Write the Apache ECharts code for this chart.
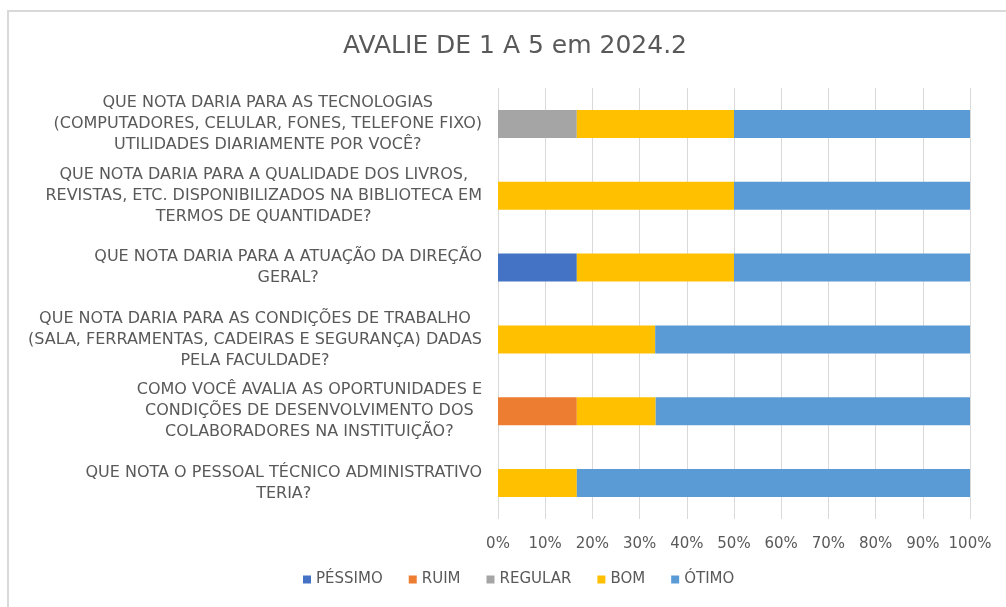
<!DOCTYPE html>
<html>
<head>
<meta charset="utf-8">
<script src="https://cdn.jsdelivr.net/npm/echarts@6/dist/echarts.min.js"></script>
<style>
  html, body { margin: 0; padding: 0; background: #fff; overflow: hidden; width: 1006px; height: 607px; }
  #frame { position: absolute; left: 7px; top: 10px; width: 1100px; height: 700px;
    border-left: 2px solid #d9d9d9; border-top: 2px solid #d9d9d9; }
  #chart { position: absolute; left: 0; top: 0; width: 1006px; height: 607px; }
</style>
</head>
<body>
<div id="frame"></div>
<div id="chart"></div>
<script>
const categories = [
  'QUE NOTA DARIA PARA AS TECNOLOGIAS\n(COMPUTADORES, CELULAR, FONES, TELEFONE FIXO)\nUTILIDADES DIARIAMENTE POR VOCÊ?',
  'QUE NOTA DARIA PARA A QUALIDADE DOS LIVROS,\nREVISTAS, ETC. DISPONIBILIZADOS NA BIBLIOTECA EM\nTERMOS DE QUANTIDADE?',
  'QUE NOTA DARIA PARA A ATUAÇÃO DA DIREÇÃO\nGERAL?',
  'QUE NOTA DARIA PARA AS CONDIÇÕES DE TRABALHO\n(SALA, FERRAMENTAS, CADEIRAS E SEGURANÇA) DADAS\nPELA FACULDADE?',
  'COMO VOCÊ AVALIA AS OPORTUNIDADES E\nCONDIÇÕES DE DESENVOLVIMENTO DOS\nCOLABORADORES NA INSTITUIÇÃO?',
  'QUE NOTA O PESSOAL TÉCNICO ADMINISTRATIVO\nTERIA?'
];

// percent of answers per rating, one value per question (top to bottom)
const pessimo = [0, 0, 16.7, 0, 0, 0];
const ruim = [0, 0, 0, 0, 16.7, 0];
const regular = [16.7, 0, 0, 0, 0, 0];
const bom = [33.3, 50, 33.3, 33.3, 16.7, 16.7];
const otimo = [50, 50, 50, 66.7, 66.6, 83.3];

const seriesNames = ['PÉSSIMO', 'RUIM', 'REGULAR', 'BOM', 'ÓTIMO'];
const seriesColors = ['#4472C4', '#ED7D31', '#A5A5A5', '#FFC000', '#5B9BD5'];
const seriesData = [pessimo, ruim, regular, bom, otimo];

const FONT = 'DejaVu Sans';
const chart = echarts.init(document.getElementById('chart'));

const option = {
  animation: false,
  title: {
    text: 'AVALIE DE 1 A 5 em 2024.2',
    left: 510,
    top: 29,
    textAlign: 'center',
    textStyle: { fontFamily: FONT, fontSize: 25, fontWeight: 'normal', color: '#595959' }
  },
  legend: {
    bottom: 15,
    left: 298,
    itemWidth: 8,
    itemHeight: 8,
    itemGap: 26,
    icon: 'rect',
    textStyle: { fontFamily: FONT, fontSize: 15, color: '#595959' }
  },
  grid: { left: 498, right: 36, top: 88, bottom: 88 },
  xAxis: {
    type: 'value',
    min: 0,
    max: 100,
    interval: 10,
    axisLine: { show: false },
    axisTick: { show: false },
    splitLine: { lineStyle: { color: '#d9d9d9', width: 1 } },
    axisLabel: {
      formatter: '{value}%',
      margin: 18,
      fontFamily: FONT, fontSize: 15, color: '#595959'
    }
  },
  yAxis: {
    type: 'category',
    data: categories,
    inverse: true,
    axisLine: { show: false },
    axisTick: { show: false },
    axisLabel: {
      margin: 16,
      lineHeight: 21,
      fontFamily: FONT, fontSize: 16, color: '#595959',
      formatter: (v) => v.split('\n').map((l) => '{c|' + l + '}').join('\n'),
      rich: { c: { align: 'center', fontFamily: FONT, fontSize: 16, color: '#595959', lineHeight: 21 } }
    }
  },
  series: seriesNames.map((name, i) => ({
    name,
    type: 'bar',
    stack: 'total',
    barWidth: 28,
    itemStyle: { color: seriesColors[i] },
    data: seriesData[i]
  }))
};

chart.setOption(option);
</script>
</body>
</html>
